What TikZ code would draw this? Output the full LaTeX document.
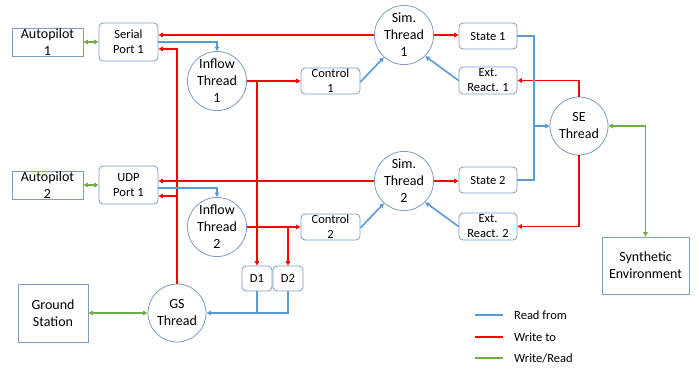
\documentclass[tikz,border=0pt]{standalone}
\usepackage{fontspec}
\setmainfont{Carlito}
\usetikzlibrary{arrows.meta,calc}
\definecolor{bord}{RGB}{125,155,195}
\definecolor{lblue}{RGB}{91,155,213}
\definecolor{lred}{RGB}{255,0,0}
\definecolor{lgreen}{RGB}{112,173,71}
\tikzset{
  big/.style={font=\fontsize{14}{17}\selectfont},
  small/.style={font=\fontsize{12.5}{15}\selectfont},
  sqbox/.style={draw=bord,line width=0.8pt,rectangle,align=center,inner sep=0pt,big},
  rbox/.style={draw=bord,line width=0.8pt,rectangle,rounded corners=4pt,align=center,inner sep=0pt,small},
  thr/.style={draw=bord,line width=0.8pt,circle,align=center,inner sep=0pt,minimum size=58pt,big},
  tip/.style={-{Triangle[length=4.5pt,width=4.5pt]}},
  btip/.style={{Triangle[length=4.5pt,width=4.5pt]}-{Triangle[length=4.5pt,width=4.5pt]}},
  rd/.style={draw=lblue,line width=1.6pt},
  wr/.style={draw=lred,line width=1.6pt},
  rw/.style={draw=lgreen,line width=1.6pt},
}
\begin{document}
\begin{tikzpicture}[x=1pt,y=-1pt]
\useasboundingbox (0,0) rectangle (699,373);
% nodes
\node[sqbox,minimum width=71pt,minimum height=28pt] (ap1) at (47.5,42) {Autopilot\\1};
\node[rbox,minimum width=59pt,minimum height=38pt] (sp1) at (128.5,42) {Serial\\Port 1};
\node[thr] (if1) at (217,81) {Inflow\\Thread\\1};
\node[rbox,minimum width=59pt,minimum height=26pt] (c1) at (330.5,81) {Control\\1};
\node[thr] (sim1) at (404,35) {Sim.\\Thread\\1};
\node[rbox,minimum width=58pt,minimum height=26pt] (st1) at (488,36) {State 1};
\node[rbox,minimum width=58pt,minimum height=27pt] (er1) at (488,80.5) {Ext.\\React. 1};
\node[thr] (se) at (579,126) {SE\\Thread};
\node[sqbox,minimum width=71pt,minimum height=28pt] (ap2) at (47.5,185) {Autopilot\\2};
\node[rbox,minimum width=59pt,minimum height=38pt] (udp) at (128.5,185) {UDP\\Port 1};
\node[thr,minimum size=56pt] (if2) at (217,227) {Inflow\\Thread\\2};
\node[rbox,minimum width=59pt,minimum height=26pt] (c2) at (330.5,227) {Control\\2};
\node[thr,minimum size=56pt] (sim2) at (404,181) {Sim.\\Thread\\2};
\node[rbox,minimum width=58pt,minimum height=26pt] (st2) at (488,180) {State 2};
\node[rbox,minimum width=58pt,minimum height=27pt] (er2) at (488,226.5) {Ext.\\React. 2};
\node[rbox,minimum width=30pt,minimum height=25pt] (d1) at (257,278.5) {D1};
\node[rbox,minimum width=30pt,minimum height=25pt] (d2) at (288,278.5) {D2};
\node[thr] (gs) at (177,313) {GS\\Thread};
\node[sqbox,minimum width=70pt,minimum height=58pt] (gnd) at (53,313) {Ground\\Station};
\node[sqbox,minimum width=87pt,minimum height=57pt] (syn) at (645.5,265.5) {Synthetic\\Environment};
% helper coordinates
\coordinate (gsA) at (177,49);
\coordinate (gsB) at (177,196);
\coordinate (bj) at (534,126);
% green
\draw[rw,btip] (ap1.east) -- (sp1.west);
\draw[rw,btip] (ap2.east) -- (udp.west);
\draw[rw,btip] (gnd.east) -- (gs.west);
\draw[rw,btip] (se.east) -| (syn.north);
% red
\draw[wr,tip] (sim1.west) -- (sim1.west -| sp1.east);
\draw[wr,tip] (sim2.west) -- (sim2.west -| udp.east);
\draw[wr,tip] (gs.north) -- (gsA) -- (gsA -| sp1.east);
\draw[wr,tip] (gsB) -- (gsB -| udp.east);
\draw[wr,tip] (if1.east) -- (c1.west);
\draw[wr,tip] (if1.east -| d1.north) -- (d1.north);
\draw[wr,tip] (if2.east) -- (c2.west);
\draw[wr,tip] (if2.east -| d2.north) -- (d2.north);
\draw[wr,tip] (sim1.east) -- (sim1.east -| st1.west);
\draw[wr,tip] (sim2.east) -- (sim2.east -| st2.west);
\draw[wr,tip] (se.north) |- (er1.east);
\draw[wr,tip] (se.south) |- (er2.east);
% blue
\draw[rd,tip] (sp1.east) -| (if1.north);
\draw[rd,tip] ([yshift=-3pt]udp.east) -| (if2.north);
\draw[rd,tip] ([yshift=-1pt]c1.east) -- (sim1.228);
\draw[rd,tip] (er1.west) -- (sim1.-45);
\draw[rd,tip] ([yshift=-1pt]c2.east) -- (sim2.228);
\draw[rd,tip] (er2.west) -- (sim2.-45);
\draw[rd] (st1.east) -| (bj) |- (st2.east);
\draw[rd,tip] (bj) -- (se.west);
\draw[rd,tip] (d2.south) |- (gs.east);
\draw[rd] (d1.south) -- (d1.south |- gs.east);
% legend
\coordinate (l1a) at (475,315); \coordinate (l1b) at (503,315);
\coordinate (l2a) at (475,337); \coordinate (l2b) at (503,337);
\coordinate (l3a) at (475,358); \coordinate (l3b) at (503,358);
\draw[rd] (l1a) -- (l1b);
\draw[wr] (l2a) -- (l2b);
\draw[rw] (l3a) -- (l3b);
\node[small,anchor=west,inner sep=0pt] (t1) at (514,315) {Read from};
\node[small,anchor=west,inner sep=0pt] (t2) at (514,337) {Write to};
\node[small,anchor=west,inner sep=0pt] (t3) at (514,358) {Write/Read};
\end{tikzpicture}
\end{document}
